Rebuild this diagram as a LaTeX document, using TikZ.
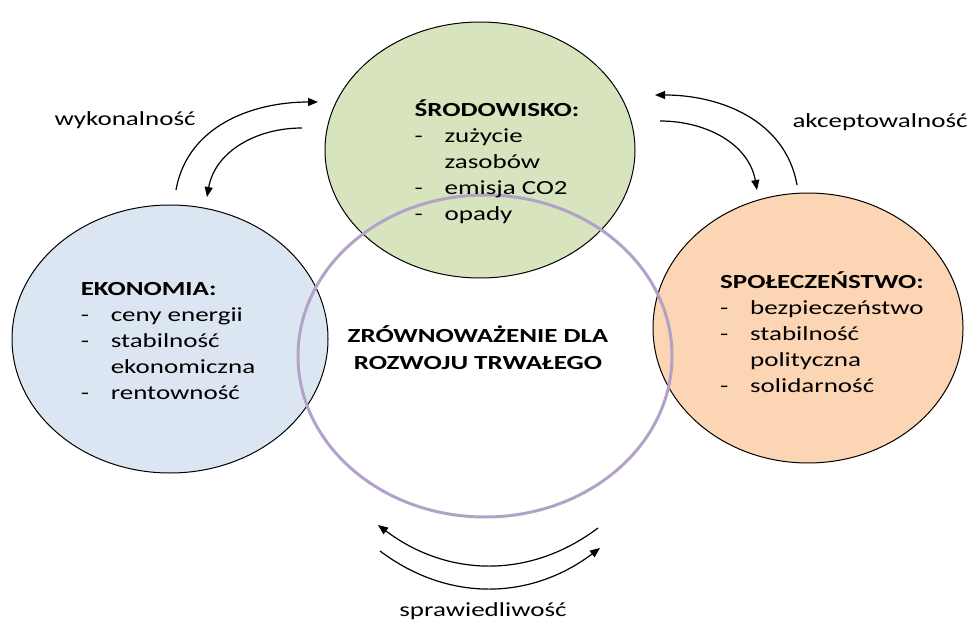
\documentclass[tikz,border=0pt]{standalone}
\usepackage{fontspec}
\setmainfont{Carlito}[FakeStretch=1.35]
\usetikzlibrary{shapes.geometric,arrows.meta}
\definecolor{zielony}{HTML}{D7E4BD}
\definecolor{niebieski}{HTML}{DCE6F2}
\definecolor{pomarancz}{HTML}{FCD5B5}
\definecolor{lawenda}{HTML}{B3A2C7}
\newcommand{\pkt}[1]{\makebox[30pt][l]{-}#1}
\newcommand{\dalej}[1]{\hspace*{30pt}#1}
\begin{document}
\begin{tikzpicture}[x=1pt,y=1pt,
  kolo/.style={ellipse,draw=black,line width=1pt,inner sep=0pt},
  opis/.style={align=left,font=\fontsize{20}{26}\selectfont,inner sep=0pt},
  etykieta/.style={font=\fontsize{20}{24}\selectfont,inner sep=0pt},
  strzalka/.style={line width=1.2pt,-{Triangle[length=10pt,width=8pt]}}]
\useasboundingbox (0,0) rectangle (968,622);

% Three pillars
\node[kolo,fill=zielony,minimum width=310pt,minimum height=256pt] (srod) at (480,472) {};
\node[kolo,fill=niebieski,minimum width=316pt,minimum height=268pt] (ekon) at (170,283) {};
\node[kolo,fill=pomarancz,minimum width=310pt,minimum height=270pt] (spol) at (808,294) {};

% Sustainability ring
\node[ellipse,draw=lawenda,line width=3pt,inner sep=0pt,minimum width=374pt,minimum height=322pt] (zrown) at (485,266) {};

% Pillar contents
\node[opis] (srodtxt) at (497,460) {\textbf{ŚRODOWISKO:}\\ \pkt{zużycie}\\ \dalej{zasobów}\\ \pkt{emisja CO2}\\ \pkt{opady}};
\node[opis] (ekontxt) at (168,281) {\textbf{EKONOMIA:}\\ \pkt{ceny energii}\\ \pkt{stabilność}\\ \dalej{ekonomiczna}\\ \pkt{rentowność}};
\node[opis] (spoltxt) at (822,290) {\textbf{SPOŁECZEŃSTWO:}\\ \pkt{bezpieczeństwo}\\ \pkt{stabilność}\\ \dalej{polityczna}\\ \pkt{solidarność}};
\node[opis,align=center,font=\fontsize{20}{27}\selectfont\bfseries] (zrowntxt) at (478,274) {ZRÓWNOWAŻENIE DLA\\ROZWOJU TRWAŁEGO};

% Feedback arrows
\coordinate (wyk1) at (176,432); \coordinate (wyk2) at (318,520);
\coordinate (wyk3) at (302,494); \coordinate (wyk4) at (207,425);
\draw[strzalka] (wyk1) to[out=80,in=180] (wyk2);
\draw[strzalka] (wyk3) to[out=180,in=80] (wyk4);
\node[etykieta] (wyk) at (125,502) {wykonalność};

\coordinate (akc1) at (797,437); \coordinate (akc2) at (655,527);
\coordinate (akc3) at (660,501); \coordinate (akc4) at (757,432);
\draw[strzalka] (akc1) to[out=100,in=0] (akc2);
\draw[strzalka] (akc3) to[out=0,in=100] (akc4);
\node[etykieta] (akc) at (880,500) {akceptowalność};

\coordinate (spr1) at (598,94); \coordinate (spr2) at (378,97);
\coordinate (spr3) at (380,71); \coordinate (spr4) at (600,74);
\draw[strzalka] (spr1) to[out=217,in=323] (spr2);
\draw[strzalka] (spr3) to[out=323,in=217] (spr4);
\node[etykieta] (spr) at (483,11) {sprawiedliwość};
\end{tikzpicture}
\end{document}
